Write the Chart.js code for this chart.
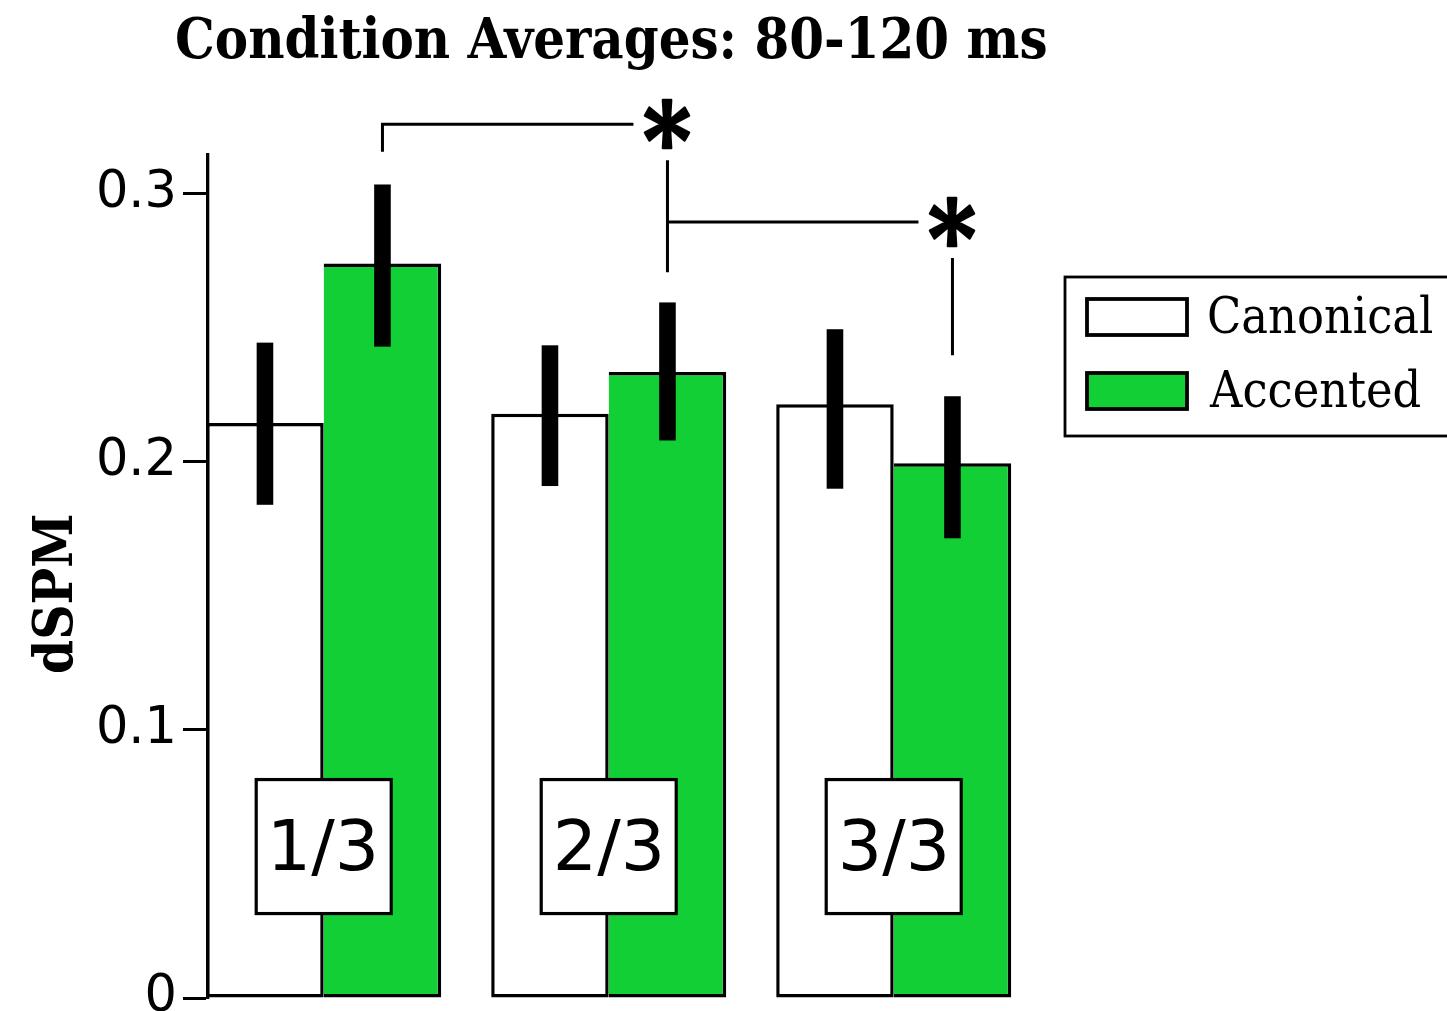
<!DOCTYPE html>
<html>
<head>
<meta charset="utf-8">
<title>Condition Averages: 80-120 ms</title>
<script src="https://cdn.jsdelivr.net/npm/chart.js@4.4.1/dist/chart.umd.min.js"></script>
<style>
  html, body { margin: 0; padding: 0; background: #fff; overflow: hidden; }
  #wrap { position: relative; width: 1447px; height: 1040px; }
</style>
</head>
<body>
<div id="wrap"><canvas id="myChart" width="1447" height="1040"></canvas></div>
<script>
// 1. DATA
const categories = ['1/3', '2/3', '3/3'];
const seriesNames = ['Canonical', 'Accented'];
const canonicalMeans = [0.2145, 0.218, 0.2215];
const accentedMeans = [0.274, 0.2335, 0.1995];
const canonicalLow = [0.184, 0.191, 0.190];
const canonicalHigh = [0.2445, 0.2435, 0.2495];
const accentedLow = [0.243, 0.208, 0.1715];
const accentedHigh = [0.3035, 0.2595, 0.2245];
const yTicks = [0, 0.1, 0.2, 0.3];
// significant differences between Accented bars
const sigFrom = [0, 1];            // left group
const sigTo = [1, 2];              // right group (asterisk here)
const sigLevel = [0.326, 0.2895];  // bracket height
const sigLeftEnd = [0.3157, null]; // lower end of left leg (null: no leg)
const sigRightEnd = [0.2708, 0.2398]; // lower end of leg under the asterisk

const titleText = 'Condition Averages: 80-120 ms';
const yTitle = 'dSPM';

const SERIF = "'DejaVu Serif Condensed', 'DejaVu Serif', serif";
const SANS = "'DejaVu Sans', sans-serif";
const GREEN = '#13cf36';

// 2. HELPERS
// pick a font size so the ink width of the text equals target px
function fitSize(ctx, text, weight, family, target) {
    ctx.font = weight + ' 100px ' + family;
    const m = ctx.measureText(text);
    return 100 * target / (m.actualBoundingBoxLeft + m.actualBoundingBoxRight);
}

// draw text so its ink box starts at left x, with given baseline
function inkText(ctx, text, left, baseline) {
    ctx.textAlign = 'left';
    ctx.textBaseline = 'alphabetic';
    const m = ctx.measureText(text);
    ctx.fillText(text, left + m.actualBoundingBoxLeft, baseline);
}

// 3. PLUGIN: error bars, group labels, significance marks, title, legend
const decorations = {
    id: 'decorations',
    afterDatasetsDraw(chart) {
        const ctx = chart.ctx;
        const xs = chart.scales.x;
        const ys = chart.scales.y;
        const lows = [canonicalLow, accentedLow];
        const highs = [canonicalHigh, accentedHigh];

        ctx.save();
        // error bars
        ctx.fillStyle = '#000';
        chart.data.datasets.forEach((ds, di) => {
            chart.getDatasetMeta(di).data.forEach((bar, i) => {
                const top = ys.getPixelForValue(highs[di][i]);
                const bottom = ys.getPixelForValue(lows[di][i]);
                ctx.fillRect(bar.x - 8.3, top, 16.6, bottom - top);
            });
        });

        // group label boxes
        const labelSize = fitSize(ctx, '1/3', 'normal', SANS, 100);
        categories.forEach((c, i) => {
            const cx = xs.getPixelForValue(i + 1);
            const cy = ys.getPixelForValue(0.0565);
            ctx.fillStyle = '#fff';
            ctx.strokeStyle = '#000';
            ctx.lineWidth = 3.2;
            ctx.fillRect(cx - 67.5, cy - 67, 135, 134);
            ctx.strokeRect(cx - 67.5, cy - 67, 135, 134);
            ctx.fillStyle = '#000';
            ctx.font = 'normal ' + labelSize + 'px ' + SANS;
            const m = ctx.measureText(c);
            const w = m.actualBoundingBoxLeft + m.actualBoundingBoxRight;
            const h = m.actualBoundingBoxAscent + m.actualBoundingBoxDescent;
            inkText(ctx, c, cx - w / 2, cy + h / 2 - m.actualBoundingBoxDescent);
        });

        // significance brackets with asterisks
        const accMeta = chart.getDatasetMeta(1);
        ctx.strokeStyle = '#000';
        ctx.lineCap = 'butt';
        const gap = 34;
        sigFrom.forEach((f, k) => {
            const x1 = accMeta.data[f].x;
            const x2 = accMeta.data[sigTo[k]].x;
            const yl = ys.getPixelForValue(sigLevel[k]);
            ctx.lineWidth = 3;
            ctx.beginPath();
            if (sigLeftEnd[k] !== null) {
                ctx.moveTo(x1, ys.getPixelForValue(sigLeftEnd[k]));
                ctx.lineTo(x1, yl);
            } else {
                ctx.moveTo(x1, yl);
            }
            ctx.lineTo(x2 - gap, yl);
            ctx.moveTo(x2, yl + 36);
            ctx.lineTo(x2, ys.getPixelForValue(sigRightEnd[k]));
            ctx.stroke();

            // asterisk centred on the bracket level
            ctx.fillStyle = '#000';
            ctx.font = 'bold 100px ' + SERIF;
            let m = ctx.measureText('*');
            const s = 100 * 48 / (m.actualBoundingBoxAscent + m.actualBoundingBoxDescent);
            ctx.font = 'bold ' + s + 'px ' + SERIF;
            m = ctx.measureText('*');
            const w = m.actualBoundingBoxLeft + m.actualBoundingBoxRight;
            const h = m.actualBoundingBoxAscent + m.actualBoundingBoxDescent;
            ctx.lineWidth = 2.5;
            ctx.lineJoin = 'round';
            const tx = x2 - w / 2, tb = yl + h / 2 - m.actualBoundingBoxDescent;
            inkText(ctx, '*', tx, tb);
            ctx.strokeText('*', tx + m.actualBoundingBoxLeft, tb);
        });
        ctx.restore();
    },
    afterDraw(chart) {
        const ctx = chart.ctx;
        ctx.save();
        ctx.fillStyle = '#000';

        // title
        const ts = fitSize(ctx, titleText, 'bold', SERIF, 869);
        ctx.font = 'bold ' + ts + 'px ' + SERIF;
        inkText(ctx, titleText, 177, 58);

        // y axis title, rotated
        const ys = fitSize(ctx, yTitle, 'bold', SERIF, 157);
        ctx.font = 'bold ' + ys + 'px ' + SERIF;
        ctx.translate(72, 0);
        ctx.rotate(-Math.PI / 2);
        inkText(ctx, yTitle, -672, 0);
        ctx.setTransform(1, 0, 0, 1, 0, 0);

        // legend
        ctx.strokeStyle = '#000';
        ctx.lineWidth = 2.8;
        ctx.strokeRect(1065, 277, 420, 159);
        const swatches = ['#ffffff', GREEN];
        const baselines = [333, 407];
        const ls = fitSize(ctx, seriesNames[0], 'normal', SERIF, 223);
        seriesNames.forEach((name, i) => {
            const top = baselines[i] - 34;
            ctx.fillStyle = swatches[i];
            ctx.fillRect(1087, top, 100, 36);
            ctx.lineWidth = 3.8;
            ctx.strokeRect(1087, top, 100, 36);
            ctx.fillStyle = '#000';
            ctx.font = 'normal ' + ls + 'px ' + SERIF;
            inkText(ctx, name, 1209, baselines[i]);
        });
        ctx.restore();
    }
};

// 4. CHART
const toPoints = arr => arr.map((v, i) => ({ x: i + 1, y: v }));

const ctx = document.getElementById('myChart').getContext('2d');
new Chart(ctx, {
    type: 'bar',
    data: {
        datasets: [
            {
                label: seriesNames[0],
                data: toPoints(canonicalMeans),
                backgroundColor: '#ffffff',
                borderSkipped: false
            },
            {
                label: seriesNames[1],
                data: toPoints(accentedMeans),
                backgroundColor: GREEN,
                borderSkipped: 'left' // shares the line with the Canonical bar
            }
        ]
    },
    options: {
        responsive: false,
        animation: false,
        devicePixelRatio: 1,
        layout: { padding: { top: 155, right: 384, bottom: 42, left: 0 } },
        datasets: {
            bar: {
                categoryPercentage: 0.8246,
                barPercentage: 1,
                borderColor: '#000',
                borderWidth: 3.5,
                inflateAmount: 0
            }
        },
        scales: {
            x: {
                type: 'linear',
                display: false,
                offset: false,
                min: 0.594,
                max: 3.594,
                // one tick per group so bar width follows group spacing
                afterBuildTicks: s => { s.ticks = categories.map((c, i) => ({ value: i + 1 })); }
            },
            y: {
                min: 0,
                max: 0.3145,
                afterBuildTicks: s => { s.ticks = yTicks.map(v => ({ value: v })); },
                afterFit: s => { s.width = 208; },
                border: { display: true, color: '#000', width: 3.3 },
                grid: {
                    drawOnChartArea: false,
                    drawTicks: true,
                    tickLength: 25,
                    tickColor: '#000',
                    tickWidth: 3
                },
                ticks: {
                    color: '#000',
                    padding: 6,
                    font: { family: SANS, size: 51 },
                    callback: v => (v === 0 ? '0' : v.toFixed(1))
                }
            }
        },
        plugins: {
            legend: { display: false },
            tooltip: { enabled: false },
            title: { display: false }
        }
    },
    plugins: [decorations]
});
</script>
</body>
</html>
